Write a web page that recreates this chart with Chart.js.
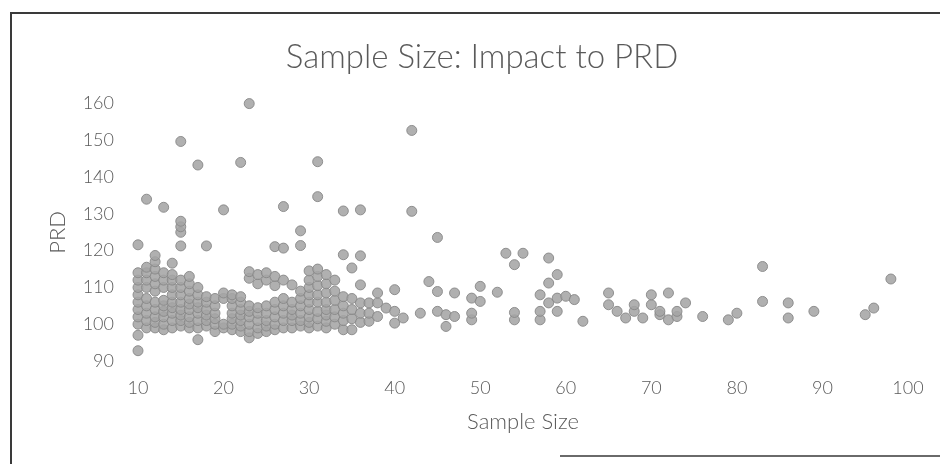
<!DOCTYPE html>
<html>
<head>
<meta charset="utf-8">
<script src="https://cdn.jsdelivr.net/npm/chart.js@4.4.1/dist/chart.umd.min.js"></script>
<style>
  html, body { margin: 0; padding: 0; background: #ffffff; }
  #wrap { position: relative; width: 940px; height: 464px; overflow: hidden; }
  #frame { position: absolute; left: 10px; top: 12px; width: 940px; height: 470px;
           border-left: 2px solid #3a3a3a; border-top: 2px solid #3a3a3a; pointer-events: none; }
  #shadow { position: absolute; left: 560px; top: 455px; width: 380px; height: 0;
            border-top: 2px solid #6a6a6a; pointer-events: none; }
  canvas { position: absolute; left: 0; top: 0; }
</style>
</head>
<body>
<div id="wrap">
  <canvas id="c" width="940" height="464"></canvas>
  <div id="frame"></div>
  <div id="shadow"></div>
</div>
<script>
const chartTitle = "Sample Size: Impact to PRD";
const xAxisTitle = "Sample Size";
const yAxisTitle = "PRD";
const xTicks = [10, 20, 30, 40, 50, 60, 70, 80, 90, 100];
const yTicks = [90, 100, 110, 120, 130, 140, 150, 160];

const sampleSize = [
  10,10,10,10,10,10,10,10,10,10,10,
  11,11,11,11,11,11,11,11,11,11,
  12,12,12,12,12,12,12,12,12,12,12,
  13,13,13,13,13,13,13,13,13,13,
  14,14,14,14,14,14,14,14,14,14,
  15,15,15,15,15,15,15,15,15,15,15,15,15,
  16,16,16,16,16,16,16,16,16,
  17,17,17,17,17,17,17,17,17,
  18,18,18,18,18,18,18,
  19,19,19,19,19,19,
  20,20,20,20,20,
  21,21,21,21,21,21,21,
  22,22,22,22,22,22,22,22,
  23,23,23,23,23,23,23,23,23,
  24,24,24,24,24,24,24,
  25,25,25,25,25,25,25,
  26,26,26,26,26,26,26,26,
  27,27,27,27,27,27,27,27,
  28,28,28,28,28,28,
  29,29,29,29,29,29,29,29,
  30,30,30,30,30,30,30,30,30,
  31,31,31,31,31,31,31,31,31,31,
  32,32,32,32,32,32,32,32,
  33,33,33,33,33,33,
  34,34,34,34,34,34,34,
  35,35,35,35,35,
  36,36,36,36,36,36,
  37,37,37,
  38,38,38, 39, 40,40,40, 41, 42,42, 43, 44, 45,45,45,
  46,46, 47,47, 49,49,49, 50,50, 52, 53, 54,54,54, 55,
  57,57,57, 58,58,58, 59,59,59, 60, 61, 62,
  65,65, 66, 67, 68,68, 69, 70,70, 71,71, 72,72, 73,73, 74,
  76, 79, 80, 83,83, 86,86, 89, 95, 96, 98
];
const prd = [
  92.8, 97, 100, 102, 104, 106, 108, 110, 112, 114, 121.6,
  99, 101, 103, 105, 107, 110, 112, 114, 115.5, 134,
  99, 100.5, 102, 104, 106, 109, 111, 113, 115, 117, 118.7,
  98.5, 100, 102, 103.5, 105, 106.5, 110, 112, 114, 131.8,
  99, 101, 103, 104.5, 106, 108, 110, 112, 113.5, 116.6,
  99.5, 101, 102.5, 104, 106, 108, 110, 112, 121.3, 125, 126.5, 128, 149.7,
  99, 100.5, 102, 104, 105.5, 107, 109, 111, 113,
  95.8, 99, 101, 103, 104.5, 106, 108, 110, 143.3,
  99.5, 101, 102.5, 104, 106, 107.5, 121.3,
  98, 100, 101.5, 103, 105, 107,
  99, 100, 107, 108.5, 131.1,
  98.5, 100, 101.5, 103, 105, 107, 108,
  98, 99.5, 101, 102.5, 104, 106, 107.5, 144,
  96.3, 98, 100, 102, 103.5, 105, 112.5, 114.3, 160,
  97.5, 99, 101, 103, 104.5, 111, 113.5,
  98, 99.5, 101, 103, 105, 112, 114,
  98.5, 100, 102, 104, 106, 110.5, 113, 121.1,
  99, 101, 103, 105, 107, 112, 120.7, 132,
  99, 101, 102.5, 104, 106, 110.7,
  99.5, 101, 103, 105, 107, 109, 121.4, 125.4,
  99, 100.5, 102, 104, 106, 108, 110, 112, 114.5,
  99.5, 101.5, 103.5, 106, 108, 110.5, 113, 115, 134.7, 144.2,
  99, 100.8, 102.5, 104, 106, 108.5, 111, 113.5,
  100, 102, 104, 106.5, 109, 112,
  98.5, 101, 103, 105, 107.5, 118.9, 130.8,
  98.5, 101.5, 104, 107, 115.3,
  100.5, 103, 105.8, 110.7, 118.6, 131.1,
  100.8, 103, 105.8,
  102.1, 105.8, 108.5, 104.4, 100.3, 103.5, 109.4, 101.7, 130.7, 152.7, 103, 111.6, 103.5, 108.9, 123.6,
  99.4, 102.6, 102.1, 108.5, 101.2, 103, 107.1, 106.2, 110.3, 108.7, 119.3, 101.2, 103.2, 116.2, 119.3,
  101.2, 103.5, 108, 105.8, 111.2, 118, 103.5, 107.1, 113.5, 107.6, 106.7, 100.8,
  105.3, 108.5, 103.5, 101.7, 103.5, 105.3, 101.7, 105.3, 108, 102.6, 103.5, 101.2, 108.5, 102.1, 103.5, 105.8,
  102.1, 101.2, 103, 106.2, 115.7, 101.7, 105.8, 103.5, 102.6, 104.4, 112.3
];

const points = sampleSize.map((s, i) => ({ x: s, y: prd[i] }));
const textColor = '#5a5a5a';
const fontFamily = 'Lato, "Open Sans", sans-serif';

new Chart(document.getElementById('c'), {
  type: 'scatter',
  data: {
    datasets: [{
      label: yAxisTitle,
      data: points,
      clip: false,
      pointRadius: 5,
      pointHoverRadius: 5,
      pointBackgroundColor: 'rgba(165,165,165,0.88)',
      pointBorderColor: 'rgba(135,135,135,0.9)',
      pointBorderWidth: 1
    }]
  },
  options: {
    responsive: false,
    animation: false,
    devicePixelRatio: 1,
    layout: { padding: { top: 0, right: 32, bottom: 0, left: 56 } },
    plugins: {
      legend: { display: false },
      tooltip: { enabled: false },
      title: {
        display: true,
        text: chartTitle,
        color: textColor,
        font: { family: fontFamily, size: 33, weight: '300' },
        padding: { top: 38, bottom: 26 }
      }
    },
    scales: {
      x: {
        type: 'linear',
        min: xTicks[0],
        max: xTicks[xTicks.length - 1],
        afterBuildTicks: (scale) => { scale.ticks = xTicks.map(v => ({ value: v })); },
        afterFit: (scale) => { scale.height = 103; },
        grid: { display: false, drawTicks: false },
        border: { display: false },
        ticks: { color: textColor, font: { family: fontFamily, size: 18, weight: '300' }, padding: 16, maxRotation: 0, autoSkip: false },
        title: { display: true, text: xAxisTitle, color: textColor, font: { family: fontFamily, size: 22, weight: '300' }, padding: { top: 0, bottom: 29 } }
      },
      y: {
        type: 'linear',
        min: yTicks[0],
        max: yTicks[yTicks.length - 1],
        afterBuildTicks: (scale) => { scale.ticks = yTicks.map(v => ({ value: v })); },
        afterFit: (scale) => { scale.width = 82; },
        grid: { display: false, drawTicks: false },
        border: { display: false },
        ticks: { color: textColor, font: { family: fontFamily, size: 18, weight: '300' }, padding: 24 },
        title: { display: true, text: yAxisTitle, color: textColor, font: { family: fontFamily, size: 22, weight: '300' }, padding: { top: -11, bottom: 0 } }
      }
    }
  }
});
</script>
</body>
</html>
